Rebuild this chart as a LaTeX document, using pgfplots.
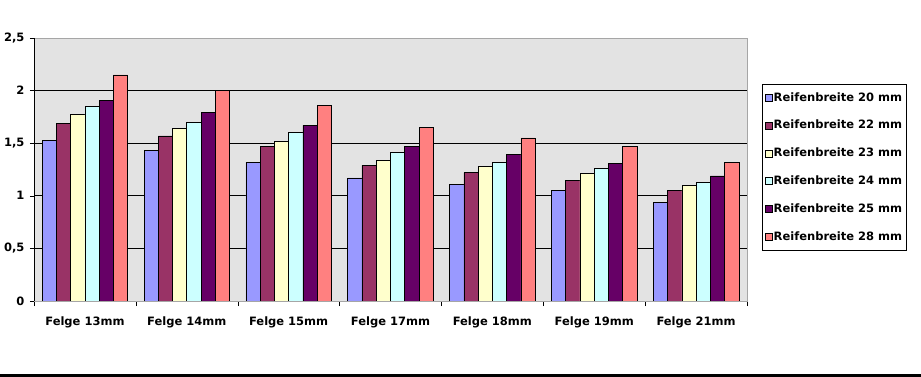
\documentclass[border=0pt]{standalone}
\usepackage{fontspec}
\setmainfont{DejaVu Sans}
\usepackage{pgfplots}
\usepackage{pgfplotstable}
\pgfplotsset{compat=1.18}
\definecolor{c20}{HTML}{9999FF}
\definecolor{c22}{HTML}{993366}
\definecolor{c23}{HTML}{FFFFCC}
\definecolor{c24}{HTML}{CCFFFF}
\definecolor{c25}{HTML}{660066}
\definecolor{c28}{HTML}{FF8080}
\definecolor{plotbg}{HTML}{E3E3E3}
\pgfplotstableread{
x w20 w22 w23 w24 w25 w28
0 1.53 1.69 1.77 1.85 1.91 2.15
1 1.43 1.57 1.64 1.70 1.79 2.00
2 1.32 1.47 1.52 1.60 1.67 1.86
3 1.17 1.29 1.34 1.41 1.47 1.65
4 1.11 1.22 1.28 1.32 1.39 1.55
5 1.05 1.15 1.21 1.26 1.31 1.47
6 0.94 1.05 1.10 1.13 1.19 1.32
}\data
\begin{document}
\begin{tikzpicture}
\path[use as bounding box] (0,0) rectangle (921bp,377bp);
\begin{axis}[
  at={(34bp,76bp)}, anchor=south west,
  scale only axis, width=713bp, height=263bp,
  ybar=0pt, bar width=0.14,
  xmin=-0.5, xmax=6.5, ymin=0, ymax=2.5,
  xtick={0,...,6},
  xticklabels={Felge 13mm,Felge 14mm,Felge 15mm,Felge 17mm,Felge 18mm,Felge 19mm,Felge 21mm},
  major x tick style={draw=none},
  minor xtick={-0.5,0.5,...,6.5},
  minor x tick style={black, thin},
  minor tick length=5bp,
  ytick={0,0.5,1,1.5,2,2.5},
  major tick length=4bp,
  tick align=outside,
  xtick pos=bottom, ytick pos=left,
  ytick style={black, thin},
  ymajorgrids, grid style={black, line width=0.8bp},
  axis line style={draw=gray!70},
  axis background/.style={fill=plotbg},
  /pgf/number format/use comma,
  /pgf/number format/assume math mode=true,
  tick label style={font=\fontsize{11.5bp}{13bp}\selectfont\bfseries},
  x tick label style={yshift=-8bp},
  yticklabel style={xshift=-2bp},
  every axis plot/.append style={draw=black, line width=0.6bp},
  legend style={at={(1,1)}, anchor=north west, xshift=15bp, yshift=-46bp,
    draw=black, line width=0.6bp, font=\fontsize{11.5bp}{13bp}\selectfont\bfseries,
    row sep=13.7bp, inner xsep=2.5bp, inner ysep=6bp,
    nodes={inner xsep=1.5bp}},
  legend cell align=left,
  legend image code/.code={\draw[#1, line width=0.4bp] (0bp,-3.5bp) rectangle (7bp,3.5bp);},
]
\addplot[fill=c20] table[x=x,y=w20]{\data};
\addplot[fill=c22] table[x=x,y=w22]{\data};
\addplot[fill=c23] table[x=x,y=w23]{\data};
\addplot[fill=c24] table[x=x,y=w24]{\data};
\addplot[fill=c25] table[x=x,y=w25]{\data};
\addplot[fill=c28] table[x=x,y=w28]{\data};
\legend{Reifenbreite 20 mm,Reifenbreite 22 mm,Reifenbreite 23 mm,Reifenbreite 24 mm,Reifenbreite 25 mm,Reifenbreite 28 mm}
\draw[black, line width=0.8bp] (rel axis cs:0,0) -- (rel axis cs:0,1);
\draw[black, line width=0.8bp] (rel axis cs:0,0) -- (rel axis cs:1,0);
\end{axis}
\draw[black, line width=2.5bp] (0,1.3bp) -- (921bp,1.3bp);
\end{tikzpicture}
\end{document}
